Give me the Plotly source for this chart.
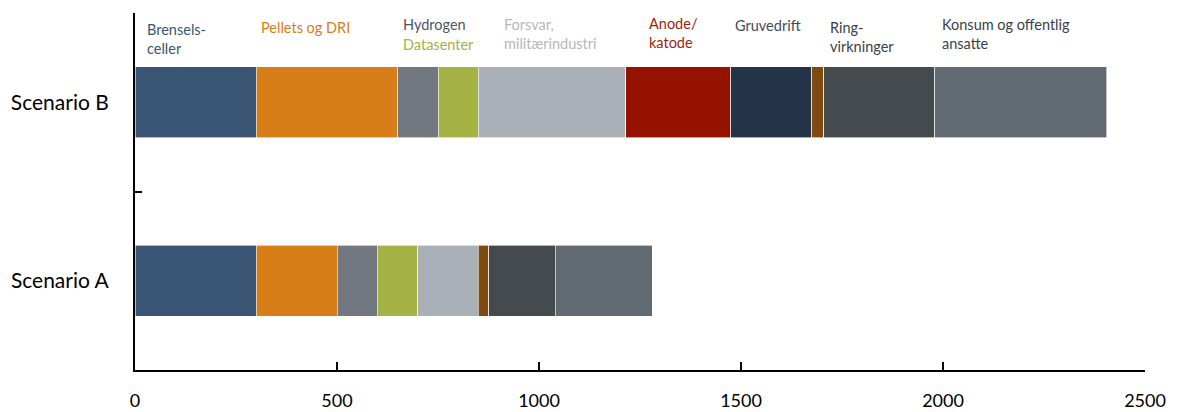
import plotly.graph_objects as go

categories = ["Scenario A", "Scenario B"]
series = ["Brenselsceller", "Pellets og DRI", "Hydrogen", "Datasenter",
          "Forsvar, militærindustri", "Anode/katode", "Gruvedrift", "Annet",
          "Ringvirkninger", "Konsum og offentlig ansatte"]
values_A = [300, 200, 100, 100, 150, 0, 0, 25, 165, 240]
values_B = [300, 350, 100, 100, 365, 260, 200, 30, 275, 425]
colors = ["#3A5573", "#D77E18", "#717880", "#A5B244", "#AAB0B7",
          "#951200", "#233448", "#7F4A10", "#454A4F", "#626B73"]
x_ticks = [0, 500, 1000, 1500, 2000, 2500]

# (series index, text, colour, x offset from segment start, paper y)
labels = [
    (0, "Brensels-<br>celler", "#3A5573", 25, 0.983),
    (1, "Pellets og DRI", "#D77E18", 7, 0.989),
    (2, "Hydrogen", "#4B5666", 8, 0.997),
    (2, "Datasenter", "#A5B244", 8, 0.941),
    (4, "Forsvar,<br>militærindustri", "#B3B8BD", 58, 0.997),
    (5, "Anode/<br>katode", "#A01E0A", 52, 1.0),
    (6, "Gruvedrift", "#3F4B5A", 5, 0.994),
    (8, "Ring-<br>virkninger", "#3A3F44", 10, 0.989),
    (9, "Konsum og offentlig<br>ansatte", "#3A3F44", 13, 0.997),
]

FONT = "Lato"
fig = go.Figure()
for i, name in enumerate(series):
    fig.add_trace(go.Bar(
        y=categories, x=[values_A[i], values_B[i]], name=name,
        orientation="h", marker=dict(color=colors[i], line=dict(color="#ffffff", width=0.6)),
        width=0.4, showlegend=False,
    ))

starts_B = []
acc = 0
for v in values_B:
    starts_B.append(acc)
    acc += v

annotations = []
for idx, text, col, off, ypos in labels:
    annotations.append(dict(
        x=starts_B[idx] + off, y=ypos, xref="x", yref="paper",
        text=text, showarrow=False, xanchor="left", yanchor="top",
        align="left", font=dict(family=FONT, size=14.5, color=col),
    ))

# page body has an 8px margin; compensate so the plot lands where the reference has it
fig.update_layout(
    barmode="stack",
    width=1170, height=404,
    margin=dict(l=127, r=33, t=5, b=42),
    plot_bgcolor="white", paper_bgcolor="white",
    font=dict(family=FONT, size=18, color="#000000"),
    annotations=annotations,
)
fig.update_xaxes(
    range=[0, 2500], tickvals=x_ticks, ticktext=[str(t) for t in x_ticks],
    showgrid=False, zeroline=False, showline=True, linecolor="black", linewidth=2,
    ticks="inside", ticklen=8, tickcolor="black", tickwidth=1.5,
    tickfont=dict(family=FONT, size=18), ticklabelstandoff=13, automargin=False,
)
fig.update_yaxes(
    categoryorder="array", categoryarray=categories, range=[-0.5, 1.5],
    showgrid=False, zeroline=False, showline=True, linecolor="black", linewidth=2,
    ticks="inside", ticklen=7, tickcolor="black", tickwidth=1.5, tickson="boundaries",
    tickfont=dict(family=FONT, size=21), ticklabelstandoff=20, automargin=False,
)
fig.write_html("out.html")
